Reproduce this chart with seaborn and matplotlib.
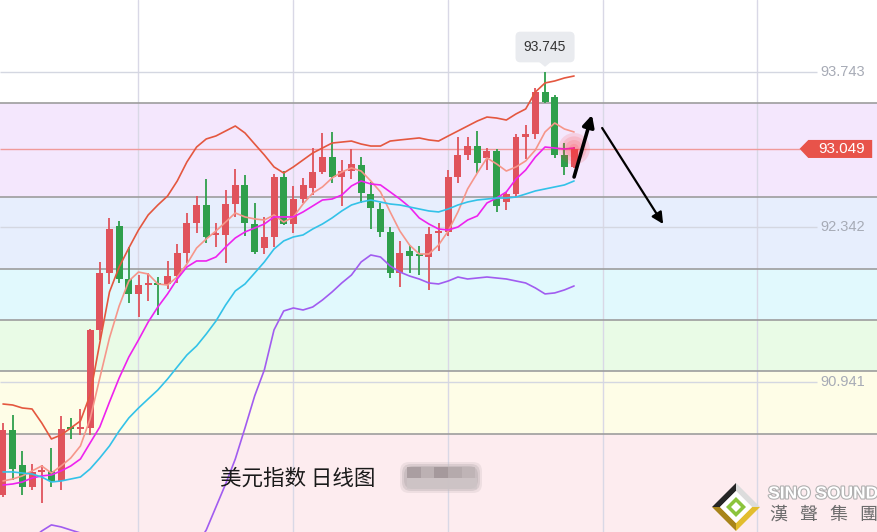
import numpy as np
import pandas as pd
import matplotlib
matplotlib.use("Agg")
import matplotlib.pyplot as plt
import matplotlib.patheffects as pe
from matplotlib.patches import Polygon, FancyBboxPatch, Rectangle
import seaborn as sns

# daily candles
opens = [89.920, 90.507, 90.191, 89.992, 90.128, 90.137, 90.046, 90.525, 90.516, 90.525,
         91.412, 91.926, 92.351, 91.872, 91.737, 91.818, 91.827, 91.827, 91.899, 92.107,
         92.378, 92.541, 92.270, 92.270, 92.550, 92.722, 92.369, 92.152, 92.252, 92.794,
         92.369, 92.595, 92.695, 92.839, 92.975, 92.794, 92.848, 92.903, 92.640, 92.505,
         92.297, 91.926, 92.125, 92.089, 92.071, 92.288, 92.297, 92.794, 92.993, 93.074,
         92.966, 93.029, 92.568, 92.640, 93.156, 93.183, 93.562, 93.517, 92.993, 92.885]
closes = [90.507, 90.155, 89.992, 90.128, 90.137, 90.046, 90.516, 90.516, 90.525, 91.412,
          91.926, 92.324, 91.872, 91.737, 91.818, 91.827, 91.818, 91.899, 92.107, 92.378,
          92.541, 92.252, 92.279, 92.550, 92.722, 92.378, 92.116, 92.252, 92.794, 92.369,
          92.595, 92.722, 92.839, 92.975, 92.794, 92.848, 92.912, 92.649, 92.514, 92.297,
          91.926, 92.107, 92.080, 92.080, 92.279, 92.297, 92.794, 92.993, 93.074, 92.921,
          93.029, 92.532, 92.640, 93.156, 93.183, 93.562, 93.472, 92.993, 92.885, 93.049]
highs = [90.571, 90.643, 90.317, 90.200, 90.191, 90.345, 90.634, 90.616, 90.697, 91.420,
         92.026, 92.424, 92.396, 92.161, 91.908, 91.926, 91.890, 92.035, 92.188, 92.469,
         92.622, 92.776, 92.378, 92.677, 92.866, 92.812, 92.559, 92.433, 92.821, 92.848,
         92.713, 92.785, 93.056, 93.192, 93.201, 92.948, 93.047, 92.975, 92.749, 92.559,
         92.342, 92.216, 92.179, 92.170, 92.342, 92.378, 92.857, 93.156, 93.156, 93.210,
         93.056, 93.047, 92.659, 93.183, 93.264, 93.599, 93.745, 93.535, 93.101, 93.065]
lows = [89.902, 90.056, 89.920, 89.965, 89.847, 89.992, 89.965, 90.426, 90.462, 90.462,
        91.321, 91.827, 91.836, 91.655, 91.529, 91.673, 91.547, 91.782, 91.836, 92.017,
        92.288, 92.198, 92.161, 92.017, 92.433, 92.261, 92.098, 92.098, 92.161, 92.360,
        92.288, 92.559, 92.631, 92.821, 92.740, 92.532, 92.776, 92.559, 92.324, 92.252,
        91.881, 91.800, 91.926, 91.908, 91.773, 92.125, 92.261, 92.740, 92.948, 92.830,
        92.857, 92.478, 92.496, 92.613, 92.957, 93.138, 93.463, 92.966, 92.812, 92.876]

# indicator lines
ma5 = [90.046, 90.064, 90.092, 90.137, 90.182, 90.118, 90.182, 90.254, 90.363, 90.607,
       90.977, 91.339, 91.628, 91.854, 91.935, 91.917, 91.827, 91.818, 91.890, 92.008,
       92.152, 92.234, 92.306, 92.387, 92.469, 92.433, 92.415, 92.405, 92.451, 92.387,
       92.433, 92.550, 92.649, 92.704, 92.785, 92.839, 92.876, 92.848, 92.758, 92.659,
       92.478, 92.306, 92.179, 92.098, 92.098, 92.179, 92.306, 92.478, 92.686, 92.830,
       92.966, 92.912, 92.848, 92.885, 92.939, 93.038, 93.201, 93.282, 93.228, 93.201]
ma10 = [90.010, 90.019, 90.037, 90.073, 90.092, 90.101, 90.137, 90.182, 90.245, 90.390,
        90.534, 90.760, 90.977, 91.167, 91.321, 91.483, 91.619, 91.737, 91.872, 91.981,
        92.035, 92.035, 92.071, 92.161, 92.243, 92.297, 92.333, 92.369, 92.433, 92.433,
        92.433, 92.478, 92.532, 92.586, 92.595, 92.631, 92.713, 92.758, 92.731, 92.722,
        92.659, 92.595, 92.523, 92.424, 92.369, 92.324, 92.315, 92.342, 92.405, 92.442,
        92.559, 92.604, 92.659, 92.776, 92.857, 92.975, 93.065, 93.056, 93.047, 93.056]
boll_mid = [90.128, 90.128, 90.118, 90.109, 90.082, 90.037, 90.046, 90.064, 90.082, 90.155,
            90.254, 90.363, 90.498, 90.616, 90.706, 90.788, 90.869, 90.968, 91.077, 91.185,
            91.267, 91.375, 91.492, 91.637, 91.764, 91.827, 91.926, 92.026, 92.143, 92.216,
            92.252, 92.270, 92.324, 92.369, 92.424, 92.487, 92.541, 92.568, 92.586, 92.568,
            92.550, 92.541, 92.523, 92.505, 92.487, 92.478, 92.505, 92.541, 92.568, 92.586,
            92.595, 92.604, 92.604, 92.613, 92.640, 92.668, 92.686, 92.704, 92.722, 92.758]
boll_up = [90.742, 90.733, 90.706, 90.697, 90.571, 90.426, 90.462, 90.525, 90.589, 90.824,
           91.294, 91.755, 91.981, 92.152, 92.315, 92.451, 92.541, 92.622, 92.758, 92.930,
           93.065, 93.138, 93.165, 93.210, 93.255, 93.192, 93.092, 92.993, 92.885, 92.830,
           92.885, 92.948, 93.011, 93.056, 93.101, 93.110, 93.119, 93.092, 93.074, 93.074,
           93.119, 93.129, 93.138, 93.147, 93.129, 93.119, 93.165, 93.210, 93.255, 93.300,
           93.336, 93.327, 93.309, 93.364, 93.409, 93.562, 93.644, 93.662, 93.689, 93.707]
boll_low = [89.513, 89.522, 89.531, 89.522, 89.594, 89.649, 89.631, 89.603, 89.576, 89.486,
            89.215, 88.971, 89.016, 89.079, 89.097, 89.124, 89.197, 89.314, 89.396, 89.441,
            89.468, 89.603, 89.811, 90.019, 90.245, 90.525, 90.815, 91.050, 91.412, 91.583,
            91.610, 91.592, 91.619, 91.682, 91.755, 91.836, 91.908, 92.026, 92.089, 92.071,
            91.990, 91.935, 91.899, 91.872, 91.836, 91.827, 91.854, 91.890, 91.872, 91.881,
            91.890, 91.881, 91.872, 91.854, 91.836, 91.791, 91.737, 91.746, 91.773, 91.809]

band_levels = [93.463, 92.613, 91.962, 91.502, 91.041, 90.471]
band_colors = ["#f4e7fd", "#e7eefd", "#e1f9fd", "#e9fbe6", "#fefde7", "#fdecef"]
axis_labels = [93.743, 92.342, 90.941]
vgrid_bars = [14, 30, 46, 62, 78]
last_price = 93.049
peak_price = 93.745
title_text = "美元指数 日线图"

# forecast arrows (bar, price)
arrow_up = ((59.0, 92.794), (60.85, 93.355))
arrow_down = ((61.9, 93.237), (68.2, 92.369))

RED = "#e0535c"
GREEN = "#2f9f4c"
line_colors = {"BOLL_UP": "#e4573f", "MA5": "#f6968a", "MA10": "#ee22ee",
               "BOLL_MID": "#33c2e8", "BOLL_LOW": "#a15cf0"}

sns.set_theme(style="white")
plt.rcParams["font.family"] = ["Liberation Sans", "DejaVu Sans"]

fig = plt.figure(figsize=(8.78, 5.32), dpi=100)
ax = fig.add_axes([0, 0, 1, 1])
x_lo, x_hi = -0.31, 90.4
y_lo, y_hi = 89.585, 94.394

# colored bands
edges = [y_hi] + band_levels + [y_lo]
ax.axhspan(band_levels[0], y_hi, color="white", zorder=0)
for i, col in enumerate(band_colors):
    ax.axhspan(edges[i + 2], edges[i + 1], color=col, lw=0, zorder=0)
for lvl in band_levels:
    ax.axhline(lvl, color="#9d9d9d", lw=1.2, zorder=1.5)

# grid
for b in vgrid_bars:
    ax.axvline(b - 0.05, color="#d9d8e6", lw=1, zorder=1)
for lvl in axis_labels:
    ax.hlines(lvl, x_lo, 84.1, color="#d4d7e1", lw=1, zorder=1)
    ax.text(86.8, lvl, f"{lvl:.3f}", ha="center", va="center", fontsize=10.5,
            color="#a7abb6", zorder=6)

# current price line
ax.hlines(last_price, x_lo, 82.3, color="#f09a9a", lw=1, zorder=1.6)

# candles
df = pd.DataFrame({"o": opens, "h": highs, "l": lows, "c": closes})
df["bar"] = np.arange(len(df))
cols = np.where(df.c >= df.o, RED, GREEN)
ax.vlines(df.bar, df.l, df.h, color=cols, lw=1.3, zorder=3)
body = (df.c - df.o).abs().clip(lower=0.014)
ax.bar(df.bar, body, bottom=df[["o", "c"]].min(axis=1), width=0.72, color=cols,
       lw=0, zorder=3.1)

# indicator lines
lines = pd.DataFrame({"bar": df.bar, "BOLL_UP": boll_up, "MA5": ma5, "MA10": ma10,
                      "BOLL_MID": boll_mid, "BOLL_LOW": boll_low})
lines = lines.melt("bar", var_name="series", value_name="price")
n0 = len(ax.lines)
sns.lineplot(data=lines, x="bar", y="price", hue="series", palette=line_colors,
             linewidth=1.2, legend=False, estimator=None, sort=False, ax=ax)
for ln in ax.lines[n0:]:
    ln.set_zorder(4)

# glow on last price
ax.scatter([df.bar.iloc[-1]] * 4, [last_price] * 4, s=[520, 320, 160, 50],
           color="#ff3030", alpha=0.13, linewidths=0, zorder=5)

# peak label
ax.text(56, 93.969, f"{peak_price:.3f}", ha="center", va="center", fontsize=10,
        color="#333333", zorder=6,
        bbox=dict(boxstyle="round,pad=0.6,rounding_size=0.35", fc="#e9ebef", ec="none"))
ax.add_patch(Polygon([(55.1, 93.855), (56.9, 93.855), (56.0, 93.79)], closed=True,
                     fc="#e9ebef", ec="none", zorder=6))

# price tag
ax.add_patch(Polygon([(82.3, last_price), (83.2, 93.129), (89.8, 93.129),
                      (89.8, 92.966), (83.2, 92.966)], closed=True, fc="#e8534a",
                     ec="none", zorder=6))
ax.text(86.6, last_price, f"{last_price:.3f}", ha="center", va="center",
        fontsize=11, color="white", zorder=7)

# arrows
for (tail, tip), lw in ((arrow_up, 2.6), (arrow_down, 1.6)):
    ax.annotate("", xy=tip, xytext=tail, zorder=7,
                arrowprops=dict(arrowstyle="-|>", color="black", lw=lw,
                                mutation_scale=17, shrinkA=0, shrinkB=0))

ax.set_xlim(x_lo, x_hi)
ax.set_ylim(y_lo, y_hi)
ax.set_axis_off()

# overlay in pixel space for caption and logo
ov = fig.add_axes([0, 0, 1, 1], facecolor="none")
ov.set_xlim(0, 878)
ov.set_ylim(532, 0)
ov.set_axis_off()

ov.text(220, 479, title_text, fontsize=15.5, color="#1a1a1a", va="center", ha="left",
        family=["Noto Sans CJK SC", "DejaVu Sans"])
# blurred (censored) tag after the caption
for pad, a in ((4, 0.25), (2, 0.45), (0, 0.7)):
    ov.add_patch(FancyBboxPatch((405 - pad, 467 - pad), 72 + 2 * pad, 21 + 2 * pad,
                                boxstyle="round,pad=1,rounding_size=9",
                                fc="#c3b8ba", ec="none", alpha=a))
for bx, by, w, c in ((407, 467, 14, "#9e9294"), (421, 467, 13, "#b7acae"),
                     (434, 467, 14, "#978b8d"), (448, 467, 14, "#ada2a4"),
                     (462, 467, 13, "#bcb1b3"), (407, 478, 70, "#cfc6c8")):
    ov.add_patch(Rectangle((bx, by), w, 11, fc=c, ec="none", alpha=0.7))

# logo
cx, cy, r = 736, 507, 24
ov.add_patch(Polygon([(cx - r, cy), (cx, cy - r), (cx, cy - r + 8), (cx - r + 8, cy)],
                     fc="#262626", ec="none"))
ov.add_patch(Polygon([(cx, cy - r), (cx + r, cy), (cx + r - 8, cy), (cx, cy - r + 8)],
                     fc="#dcdcdc", ec="none"))
ov.add_patch(Polygon([(cx - r, cy), (cx - r + 8, cy), (cx, cy + r - 8), (cx, cy + r)],
                     fc="#a8841a", ec="none"))
ov.add_patch(Polygon([(cx + r, cy), (cx + r - 8, cy), (cx, cy + r - 8), (cx, cy + r)],
                     fc="#e2bd2e", ec="none"))
ov.add_patch(Polygon([(cx - 16, cy), (cx, cy - 16), (cx + 16, cy), (cx, cy + 16)],
                     fc="white", ec="none"))
ov.add_patch(Polygon([(cx - 10, cy), (cx, cy - 10), (cx + 10, cy), (cx, cy + 10)],
                     fc="#8cc43c", ec="none"))
ov.add_patch(Polygon([(cx - 5, cy), (cx, cy - 5), (cx + 5, cy), (cx, cy + 5)],
                     fc="white", ec="none"))
ov.text(823, 494, "SINO SOUND", fontsize=12.5, fontweight="bold", color="white",
        ha="center", va="center",
        path_effects=[pe.withStroke(linewidth=1.6, foreground="#b0b0b0")])
for k, ch in enumerate("漢聲集團"):
    ov.text(778 + k * 30, 515, ch, fontsize=13, color="#6c6c6c", ha="center",
            va="center", family=["Noto Sans CJK TC", "DejaVu Sans"])

fig.savefig("out.png", dpi=100)
